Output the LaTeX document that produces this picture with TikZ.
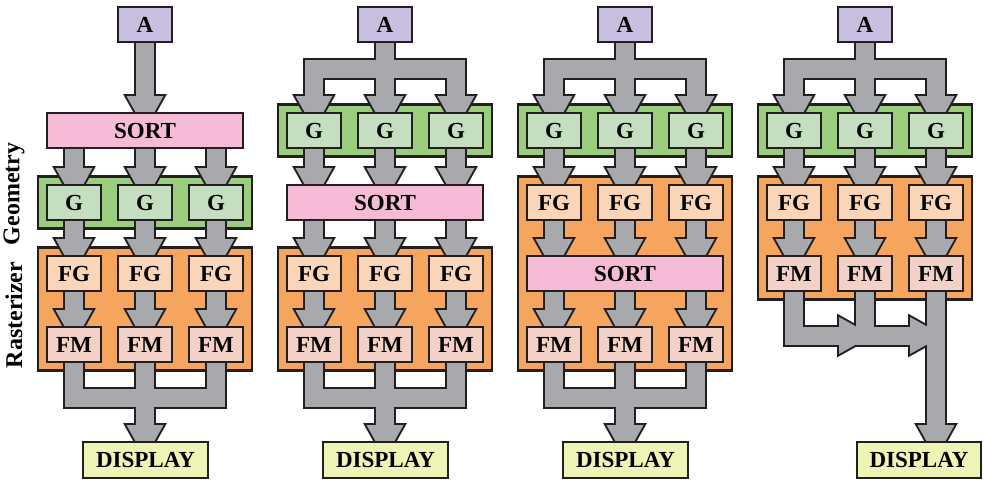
\documentclass[tikz,border=0pt]{standalone}
\usepackage{fontspec}
\setmainfont{Liberation Serif}
\usetikzlibrary{calc,fit}
\pgfdeclarelayer{grp}\pgfdeclarelayer{aout}\pgfdeclarelayer{ain}
\pgfsetlayers{grp,aout,ain,main}
\definecolor{lc}{HTML}{231F20}
\definecolor{acol}{HTML}{C8BFE0}
\definecolor{sortc}{HTML}{F6BBD7}
\definecolor{gbox}{HTML}{C5DEBF}
\definecolor{grn}{HTML}{9BCD7F}
\definecolor{fgc}{HTML}{FBD5B7}
\definecolor{fmc}{HTML}{F3D1C6}
\definecolor{org}{HTML}{F6A55F}
\definecolor{dispc}{HTML}{EEF3B6}
\definecolor{arr}{HTML}{A7A9AC}
\newcommand\fatpath[1]{%
  \begin{pgfonlayer}{aout}\draw[shout] #1;\end{pgfonlayer}%
  \begin{pgfonlayer}{ain}\draw[shin] #1;\end{pgfonlayer}}
\newcommand\headD[1]{%
  \begin{pgfonlayer}{aout}\filldraw[hdout] (#1) ++(-9,0) -- ++(-9.5,-17) -- ++(37,0) -- ++(-9.5,17) -- cycle;\end{pgfonlayer}%
  \begin{pgfonlayer}{ain}\fill[hdin] (#1) ++(-9,0) -- ++(-9.5,-17) -- ++(37,0) -- ++(-9.5,17) -- cycle;\end{pgfonlayer}}
\newcommand\headR[1]{%
  \begin{pgfonlayer}{aout}\filldraw[hdout] (#1) ++(0,-9) -- ++(-17,-9.5) -- ++(0,37) -- ++(17,-9.5) -- cycle;\end{pgfonlayer}%
  \begin{pgfonlayer}{ain}\fill[hdin] (#1) ++(0,-9) -- ++(-17,-9.5) -- ++(0,37) -- ++(17,-9.5) -- cycle;\end{pgfonlayer}}
\newcommand\vconn[2]{%
  \path (#1) coordinate (vs) (#2) coordinate (vt);
  \fatpath{(vs) -- ($(vt)+(0,-16)$)}\headD{vt}}
\begin{document}
\begin{tikzpicture}[x=1pt,y=-1pt,
  box/.style={draw=lc, line width=2.3pt, minimum width=54pt, minimum height=35pt,
    inner sep=0pt, outer sep=0pt, font=\bfseries\fontsize{23}{24}\selectfont},
  abox/.style={box, fill=acol},
  gb/.style={box, fill=gbox},
  fgb/.style={box, fill=fgc},
  fmb/.style={box, fill=fmc},
  sortb/.style={box, fill=sortc, minimum width=196pt},
  dispb/.style={box, fill=dispc, minimum width=125pt, minimum height=36pt},
  grpbox/.style={draw=lc, line width=2.3pt, inner xsep=9pt, inner ysep=8.5pt, outer sep=0pt},
  side/.style={rotate=90, font=\bfseries\fontsize{24}{24}\selectfont, inner sep=0pt},
  shout/.style={draw=lc, line width=22pt, line join=miter, line cap=butt},
  shin/.style={draw=arr, line width=18pt, line join=miter, line cap=butt},
  hdout/.style={fill=lc, draw=lc, line width=4pt, line join=miter},
  hdin/.style={fill=arr}]
\useasboundingbox (0,0) rectangle (985,483);
\def\LA{130.5}\def\LB{202.5}\def\LC{273.5}\def\LD{344.5}
% side labels
\node[side] (geo) at (14,194) {Geometry};
\node[side] (ras) at (14,315) {Rasterizer};
% column 1
\node[abox] (a1) at (145,24.5) {A};
\node[sortb] (s1) at (145,\LA) {SORT};
\foreach \i/\x in {1/74,2/145,3/216}{
  \node[gb] (g1\i) at (\x,\LB) {G};
  \node[fgb] (fg1\i) at (\x,\LC) {FG};
  \node[fmb] (fm1\i) at (\x,\LD) {FM};
}
\node[dispb] (d1) at (145.5,460) {DISPLAY};
% column 2
\node[abox] (a2) at (385,24.5) {A};
\node[sortb] (s2) at (385,\LB) {SORT};
\foreach \i/\x in {1/314,2/385,3/456}{
  \node[gb] (g2\i) at (\x,\LA) {G};
  \node[fgb] (fg2\i) at (\x,\LC) {FG};
  \node[fmb] (fm2\i) at (\x,\LD) {FM};
}
\node[dispb] (d2) at (385.5,460) {DISPLAY};
% column 3
\node[abox] (a3) at (625,24.5) {A};
\node[sortb] (s3) at (625,\LC) {SORT};
\foreach \i/\x in {1/554,2/625,3/696}{
  \node[gb] (g3\i) at (\x,\LA) {G};
  \node[fgb] (fg3\i) at (\x,\LB) {FG};
  \node[fmb] (fm3\i) at (\x,\LD) {FM};
}
\node[dispb] (d3) at (625.5,460) {DISPLAY};
% column 4
\node[abox] (a4) at (865,24.5) {A};
\foreach \i/\x in {1/794,2/865,3/936}{
  \node[gb] (g4\i) at (\x,\LA) {G};
  \node[fgb] (fg4\i) at (\x,\LB) {FG};
  \node[fmb] (fm4\i) at (\x,\LC) {FM};
}
\node[dispb, minimum width=124pt] (d4) at (919,460) {DISPLAY};
% groups
\begin{pgfonlayer}{grp}
\node[grpbox, fill=grn, fit=(g11)(g13)] (gg1) {};
\node[grpbox, fill=org, fit=(fg11)(fm13)] (og1) {};
\node[grpbox, fill=grn, fit=(g21)(g23)] (gg2) {};
\node[grpbox, fill=org, fit=(fg21)(fm23)] (og2) {};
\node[grpbox, fill=grn, fit=(g31)(g33)] (gg3) {};
\node[grpbox, fill=org, fit=(fg31)(fm33)] (og3) {};
\node[grpbox, fill=grn, fit=(g41)(g43)] (gg4) {};
\node[grpbox, fill=org, fit=(fg41)(fm43)] (og4) {};
\end{pgfonlayer}
\coordinate (tsplit) at (0,69);
\coordinate (mband) at (0,398);
\coordinate (mh) at (0,335.5);
% column 1 arrows
\vconn{a1.south}{a1.south |- s1.north}
\foreach \i in {1,2,3}{
  \vconn{s1.south -| g1\i.north}{g1\i.north}
  \vconn{g1\i.south}{fg1\i.north}
  \vconn{fg1\i.south}{fm1\i.north}
}
% top splits for columns 2-4
\foreach \c in {2,3,4}{
  \vconn{a\c.south}{g\c2.north}
  \fatpath{($(g\c1.north)+(0,-16)$) -- (g\c1.north |- tsplit) -- (g\c3.north |- tsplit) -- ($(g\c3.north)+(0,-16)$)}
  \headD{g\c1.north}
  \headD{g\c3.north}
}
% column 2
\foreach \i in {1,2,3}{
  \vconn{g2\i.south}{g2\i.south |- s2.north}
  \vconn{s2.south -| fg2\i.north}{fg2\i.north}
  \vconn{fg2\i.south}{fm2\i.north}
}
% column 3
\foreach \i in {1,2,3}{
  \vconn{g3\i.south}{fg3\i.north}
  \vconn{fg3\i.south}{fg3\i.south |- s3.north}
  \vconn{s3.south -| fm3\i.north}{fm3\i.north}
}
% column 4
\foreach \i in {1,2,3}{
  \vconn{g4\i.south}{fg4\i.north}
  \vconn{fg4\i.south}{fm4\i.north}
}
% merges columns 1-3
\foreach \c in {1,2,3}{
  \fatpath{(fm\c1.south) -- (fm\c1.south |- mband) -- (fm\c3.south |- mband) -- (fm\c3.south)}
  \vconn{fm\c2.south}{fm\c2.south |- d\c.north}
}
% column 4 merge
\coordinate (h1) at ($(fm42.south |- mh)+(-9,0)$);
\coordinate (h2) at ($(fm43.south |- mh)+(-9,0)$);
\fatpath{(fm41.south) -- (fm41.south |- mh) -- ($(h1)+(-16,0)$)}
\headR{h1}
\fatpath{(fm42.south) -- (fm42.south |- mh) -- ($(h2)+(-16,0)$)}
\headR{h2}
\vconn{fm43.south}{fm43.south |- d4.north}
\end{tikzpicture}
\end{document}
